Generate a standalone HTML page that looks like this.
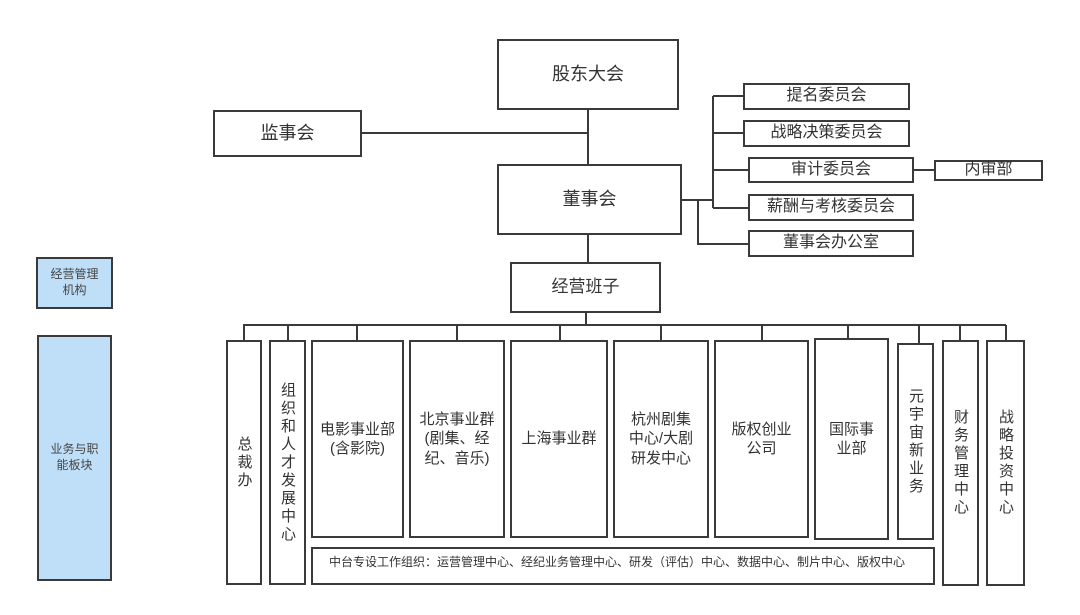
<!DOCTYPE html>
<html><head><meta charset="utf-8"><style>
body{margin:0;width:1080px;height:615px;background:#fff;position:relative;overflow:hidden;font-family:"Liberation Sans","Noto Sans CJK SC",sans-serif;color:#333}
.b{position:absolute;box-sizing:border-box;border:2px solid #3a3a3a;background:#fff;display:flex;align-items:center;justify-content:center;text-align:center;line-height:1.3}
.v{writing-mode:vertical-rl;text-orientation:upright;letter-spacing:3px;font-size:15px;line-height:1}
.l{background:#bfdff8;font-size:12px;color:#444}
svg{position:absolute;left:0;top:0}
</style></head><body>
<svg width="1080" height="615"><g stroke="#3a3a3a" stroke-width="2" fill="none">
<path d="M362 133H588M588 110V164M588 235V262"/>
<path d="M682 200H713M713 96V208M713 96H743M713 133H743M713 170H748M713 208H748M698 200V244H748M914 170H934"/>
<path d="M586 313V325M243 325H1006M244 325V340M288 325V340M357 325V340M457 325V340M560 325V340M661 325V340M762 325V340M848 325V338M919 325V343M960 325V340M1006 325V340"/>
</g></svg>
<div class="b" style="left:497px;top:39px;width:182px;height:71px;font-size:18px">股东大会</div>
<div class="b" style="left:213px;top:110px;width:149px;height:47px;font-size:18px">监事会</div>
<div class="b" style="left:497px;top:164px;width:185px;height:71px;font-size:18px">董事会</div>
<div class="b" style="left:510px;top:262px;width:151px;height:51px;font-size:17px">经营班子</div>
<div class="b" style="left:743px;top:83px;width:167px;height:27px;font-size:16px">提名委员会</div>
<div class="b" style="left:743px;top:120px;width:167px;height:27px;font-size:16px">战略决策委员会</div>
<div class="b" style="left:748px;top:157px;width:166px;height:26px;font-size:16px">审计委员会</div>
<div class="b" style="left:934px;top:160px;width:109px;height:21px;font-size:16px">内审部</div>
<div class="b" style="left:748px;top:194px;width:166px;height:27px;font-size:16px">薪酬与考核委员会</div>
<div class="b" style="left:748px;top:230px;width:166px;height:27px;font-size:16px">董事会办公室</div>
<div class="b l" style="left:36px;top:257px;width:77px;height:52px">经营管理<br>机构</div>
<div class="b l" style="left:37px;top:335px;width:75px;height:246px">业务与职<br>能板块</div>
<div class="b" style="left:226px;top:340px;width:36px;height:245px"><span class="v">总裁办</span></div>
<div class="b" style="left:269px;top:340px;width:37px;height:245px"><span class="v">组织和人才发展中心</span></div>
<div class="b" style="left:311px;top:340px;width:93px;height:198px;font-size:15px">电影事业部<br>(含影院)</div>
<div class="b" style="left:409px;top:340px;width:96px;height:198px;font-size:15px">北京事业群<br>(剧集、经<br>纪、音乐)</div>
<div class="b" style="left:510px;top:340px;width:98px;height:198px;font-size:15px">上海事业群</div>
<div class="b" style="left:613px;top:340px;width:96px;height:198px;font-size:15px">杭州剧集<br>中心/大剧<br>研发中心</div>
<div class="b" style="left:714px;top:340px;width:95px;height:198px;font-size:15px">版权创业<br>公司</div>
<div class="b" style="left:814px;top:338px;width:75px;height:202px;font-size:15px">国际事<br>业部</div>
<div class="b" style="left:897px;top:343px;width:37px;height:197px"><span class="v">元宇宙新业务</span></div>
<div class="b" style="left:942px;top:340px;width:37px;height:246px"><span class="v">财务管理中心</span></div>
<div class="b" style="left:986px;top:340px;width:39px;height:246px"><span class="v">战略投资中心</span></div>
<div class="b" style="left:311px;top:547px;width:624px;height:38px;font-size:12px;justify-content:flex-start;padding-left:16px;align-items:flex-start;padding-top:6px">中台专设工作组织：运营管理中心、经纪业务管理中心、研发（评估）中心、数据中心、制片中心、版权中心</div>
</body></html>
